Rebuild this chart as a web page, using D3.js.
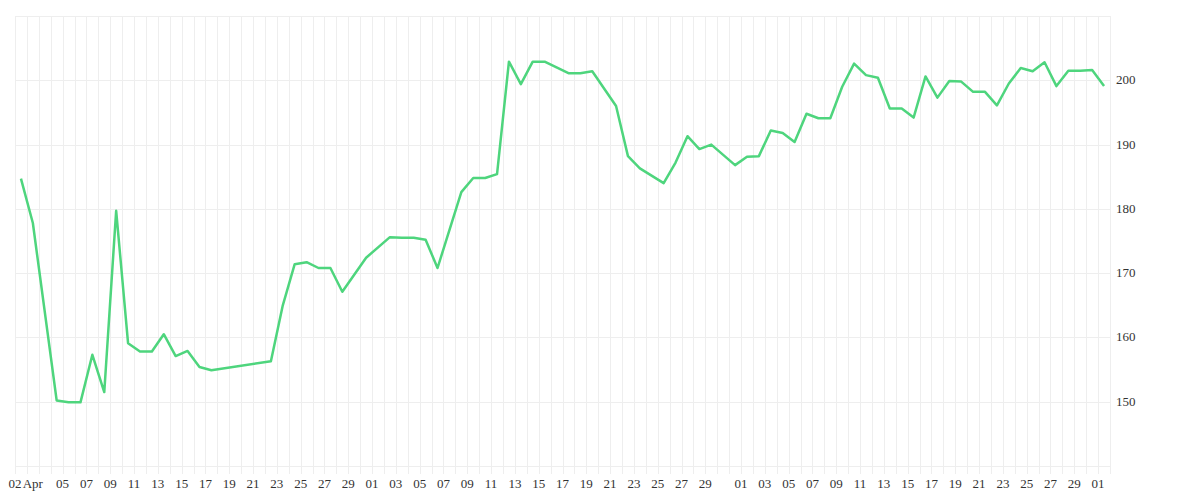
<!DOCTYPE html>
<html>
<head>
<meta charset="utf-8">
<script src="https://cdn.jsdelivr.net/npm/d3@7"></script>
<style>
  body { margin: 0; background: #fff; }
  text { font-family: "Liberation Serif", "DejaVu Serif", serif; font-size: 13px; fill: #333; }
</style>
</head>
<body>
<svg id="chart" width="1200" height="500"></svg>
<script>
// day offset from Apr 1 and closing value
const dayIndex = [0, 1, 3, 4, 5, 6, 7, 8, 9, 10, 11, 12, 13, 14, 15, 16, 21, 22, 23, 24, 25, 26, 27,
  29, 31, 32, 33, 34, 35, 37, 38, 39, 40, 41, 42, 43, 44, 45, 46, 47, 48, 50, 51, 52, 54, 55, 56,
  57, 58, 60, 61, 62, 63, 64, 65, 66, 67, 68, 69, 70, 71, 72, 73, 74, 75, 76, 77, 78, 79, 80, 81,
  82, 83, 84, 85, 86, 87, 88, 89, 90, 91];
const values = [184.7, 177.8, 150.2, 149.9, 149.9, 157.3, 151.5, 179.7, 159.1, 157.8, 157.8, 160.5,
  157.1, 157.9, 155.4, 154.9, 156.3, 165.0, 171.4, 171.7, 170.8, 170.8, 167.1,
  172.4, 175.6, 175.5, 175.5, 175.2, 170.8, 182.6, 184.8, 184.8, 185.4, 202.9, 199.4, 202.9, 202.9,
  202.0, 201.1, 201.1, 201.4, 196.0, 188.2, 186.3, 184.0, 187.2, 191.3,
  189.3, 190.0, 186.8, 188.1, 188.2, 192.2, 191.8, 190.4, 194.8, 194.1, 194.1, 199.0, 202.6, 200.8,
  200.4, 195.6, 195.6, 194.2, 200.6, 197.3, 199.9, 199.8, 198.2, 198.2,
  196.1, 199.5, 201.9, 201.4, 202.8, 199.1, 201.5, 201.5, 201.6, 199.1];
// tick labels: [day offset from Apr 1, label]
const tickDays = [0, 2, 4, 6, 8, 10, 12, 14, 16, 18, 20, 22, 24, 26, 28, 30, 32, 34, 36, 38, 40, 42,
  44, 46, 48, 50, 52, 54, 56, 58, 61, 63, 65, 67, 69, 71, 73, 75, 77, 79, 81, 83, 85, 87, 89, 91];
const tickLabels = ['02', 'Apr', '05', '07', '09', '11', '13', '15', '17', '19', '21', '23', '25', '27', '29',
  '01', '03', '05', '07', '09', '11', '13', '15', '17', '19', '21', '23', '25', '27', '29',
  '01', '03', '05', '07', '09', '11', '13', '15', '17', '19', '21', '23', '25', '27', '29', '01'];
const yTicks = [150, 160, 170, 180, 190, 200];

const start = new Date(2024, 3, 1);
const day = d => d3.timeDay.offset(start, d);
const data = dayIndex.map((d, i) => ({ date: d3.timeHour.offset(day(d), 12), value: values[i] }));

const svg = d3.select('#chart');
const x = d3.scaleTime().domain([start, day(92)]).range([15, 1110]);
const y = d3.scaleLinear().domain([140, 210]).range([466, 16]);

const grid = svg.append('g').attr('stroke', '#eeeeee').attr('stroke-width', 1);
grid.selectAll('.vg').data(d3.range(0, 93)).enter().append('line')
  .attr('x1', d => Math.round(x(day(d))) + 0.5).attr('x2', d => Math.round(x(day(d))) + 0.5)
  .attr('y1', 16).attr('y2', 474);
grid.selectAll('.hg').data(d3.range(140, 211, 10)).enter().append('line')
  .attr('x1', 15).attr('x2', 1110)
  .attr('y1', d => Math.round(y(d)) + 0.5).attr('y2', d => Math.round(y(d)) + 0.5);

svg.append('g').selectAll('text').data(tickDays).enter().append('text')
  .attr('x', (d, i) => x(day(d)) + (i === 1 ? -6 : 0))
  .attr('y', 488)
  .attr('text-anchor', 'middle')
  .text((d, i) => tickLabels[i]);

svg.append('g').selectAll('text').data(yTicks).enter().append('text')
  .attr('x', 1116).attr('y', d => y(d) + 4)
  .text(d => d);

svg.append('path').datum(data)
  .attr('fill', 'none')
  .attr('stroke', '#4ed57d')
  .attr('stroke-width', 2.5)
  .attr('stroke-linejoin', 'round')
  .attr('d', d3.line().x(d => x(d.date)).y(d => y(d.value)));
</script>
</body>
</html>
